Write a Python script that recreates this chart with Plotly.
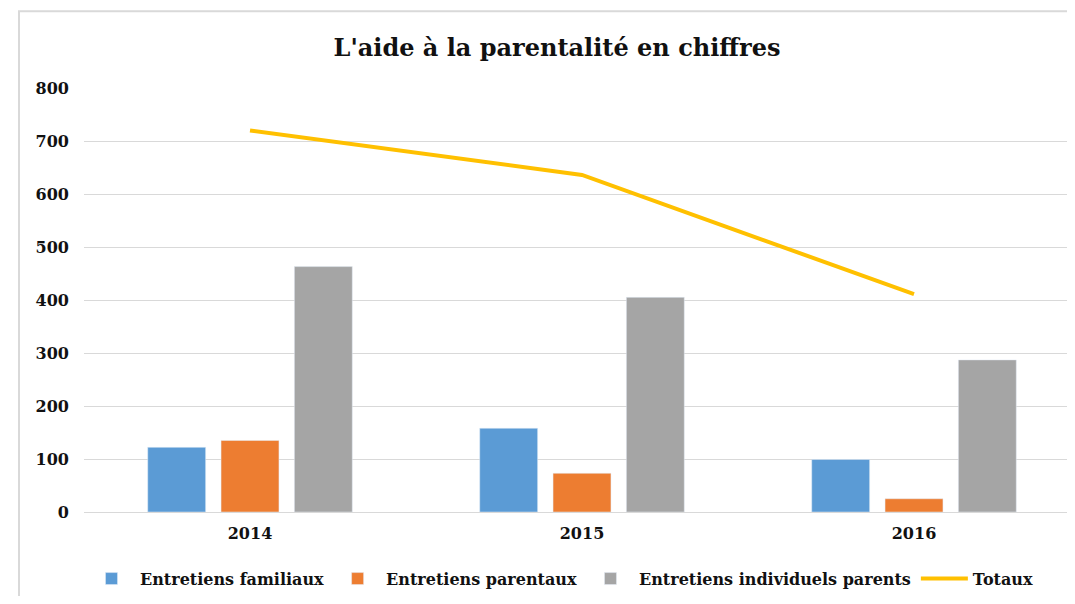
import plotly.graph_objects as go

years = ["2014", "2015", "2016"]
familiaux = [122, 158, 99]
parentaux = [135, 73, 25]
individuels = [463, 405, 287]
totaux = [720, 636, 411]
y_ticks = [0, 100, 200, 300, 400, 500, 600, 700, 800]

FONT = "DejaVu Serif"
OFF = 8  # page body margin
W, H = 1075 - 2 * OFF, 604 - 2 * OFF
L, R, T = 84 - OFF, 0, 88 - OFF
B = H - (514 - OFF)
pw, ph = W - L - R, H - T - B
CAT = 332.0

def px_x(x):
    return (x - OFF - L) / pw

def px_y(y):
    return (H - B - (y - OFF)) / ph

fig = go.Figure()
fig.add_trace(go.Bar(x=years, y=familiaux, name="Entretiens familiaux", marker_color="#5B9BD5"))
fig.add_trace(go.Bar(x=years, y=parentaux, name="Entretiens parentaux", marker_color="#ED7D31"))
fig.add_trace(go.Bar(x=years, y=individuels, name="Entretiens individuels parents", marker_color="#A5A5A5"))
fig.add_trace(go.Scatter(x=years, y=totaux, name="Totaux", mode="lines",
                         line=dict(color="#FFC000", width=4)))

fig.update_layout(
    width=W, height=H,
    margin=dict(l=L, r=R, t=T, b=B),
    paper_bgcolor="white", plot_bgcolor="white",
    barmode="group", bargap=0.3375, bargroupgap=0.21,
    font=dict(family=FONT, color="#111111"),
    title=dict(text="<b>L'aide à la parentalité en chiffres</b>",
               font=dict(family=FONT, size=24, color="#111111"),
               x=px_x(557), xref="paper", xanchor="center",
               y=1 - (48 - OFF) / H, yref="container", yanchor="middle"),
    xaxis=dict(range=[-0.5, -0.5 + pw / CAT], showgrid=False, showline=False, zeroline=False,
               ticks="", ticklabelstandoff=10,
               tickfont=dict(family=FONT, size=16, color="#111111", weight="bold")),
    yaxis=dict(range=[0, 800], tickvals=y_ticks, showgrid=True, gridcolor="#D9D9D9",
               gridwidth=1, zeroline=True, zerolinecolor="#D9D9D9", zerolinewidth=1,
               ticks="", ticklabelstandoff=14,
               tickfont=dict(family=FONT, size=16, color="#111111", weight="bold")),
    legend=dict(orientation="h", x=px_x(83), xanchor="left", y=px_y(581), yanchor="middle",
                font=dict(family=FONT, size=16, color="#111111", weight="bold"),
                itemwidth=47, traceorder="normal"),
    showlegend=True,
)

fig.add_shape(type="rect", xref="paper", yref="paper",
              x0=px_x(19), x1=px_x(1100), y0=px_y(640), y1=px_y(11),
              line=dict(color="#D9D9D9", width=2), fillcolor="rgba(0,0,0,0)", layer="below")

fig.write_html("out.html")
